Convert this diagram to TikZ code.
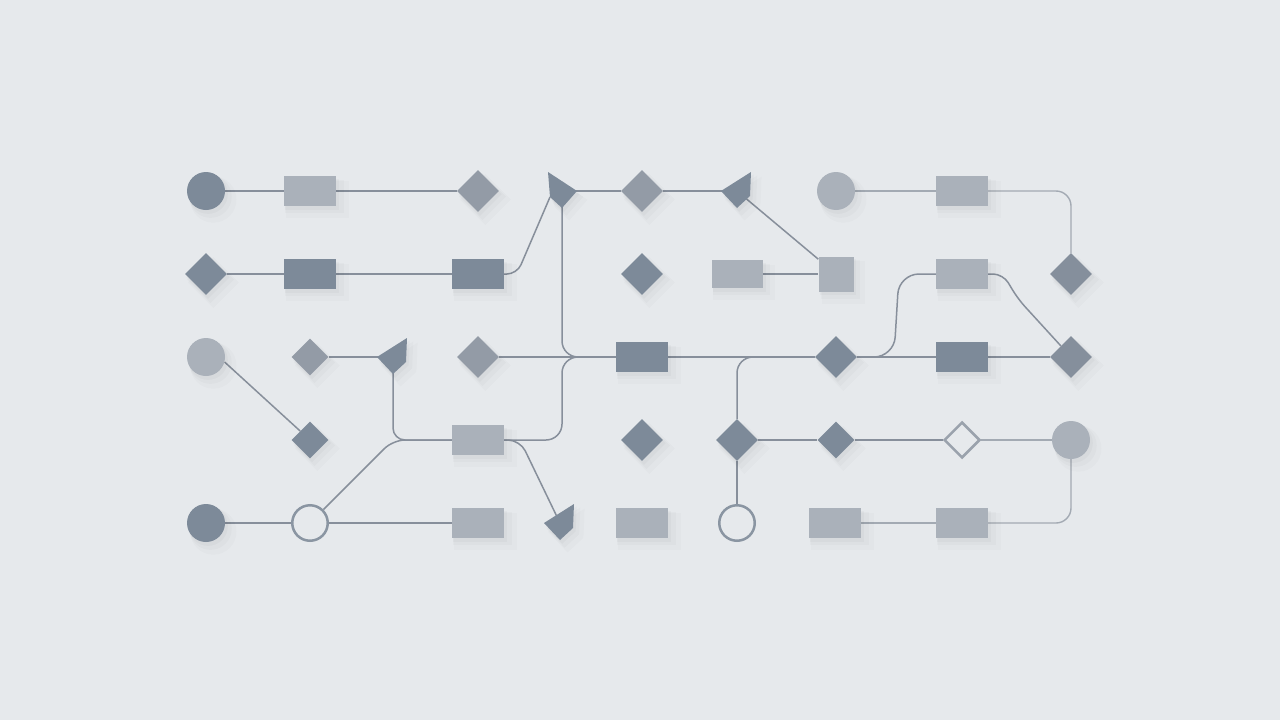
\documentclass[tikz,border=0pt]{standalone}
\usetikzlibrary{shapes.geometric,shadows}
\pgfdeclarelayer{bg}\pgfdeclarelayer{edges}
\pgfsetlayers{bg,edges,main}
\definecolor{bgc}{HTML}{E6E9EC}
\definecolor{dk}{HTML}{7D8A99}
\definecolor{dk2}{HTML}{858F9C}
\definecolor{md}{HTML}{939BA6}
\definecolor{lt}{HTML}{AAB1BA}
\definecolor{ln}{HTML}{878F9B}
\definecolor{lnl}{HTML}{A3AAB3}
\definecolor{ol}{HTML}{8A95A2}
\definecolor{oll}{HTML}{9AA2AC}
\begin{document}
\begin{tikzpicture}[x=1pt,y=-1pt,
  sh/.style={drop shadow={shadow xshift=2pt,shadow yshift=-3pt,shadow scale=1.04,opacity=0.025,fill=black},
             drop shadow={shadow xshift=4pt,shadow yshift=-5pt,shadow scale=1.12,opacity=0.02,fill=black},
             drop shadow={shadow xshift=6pt,shadow yshift=-7pt,shadow scale=1.22,opacity=0.015,fill=black}},
  circ/.style={circle,minimum size=38pt,inner sep=0pt,draw=none,sh},
  rct/.style={rectangle,minimum width=52pt,minimum height=30pt,inner sep=0pt,draw=none,sh},
  sqr/.style={rectangle,minimum size=35pt,inner sep=0pt,draw=none,sh},
  dia/.style={diamond,minimum size=42pt,inner sep=0pt,draw=none,sh},
  sdia/.style={diamond,minimum size=37pt,inner sep=0pt,draw=none,sh},
  hcirc/.style={circle,minimum size=35.5pt,inner sep=0pt,draw=ol,line width=2.5pt,fill=bgc},
  hdia/.style={diamond,minimum size=36pt,inner sep=0pt,draw=oll,line width=2.5pt,fill=bgc},
  conn/.style={draw=ln,line width=1.5pt},
  connl/.style={draw=lnl,line width=1.4pt},
]
\begin{pgfonlayer}{bg}
\fill[bgc] (0,0) rectangle (1280,720);
\end{pgfonlayer}
\useasboundingbox (0,0) rectangle (1280,720);

% row 1
\node[circ,fill=dk] (c11) at (206,191) {};
\node[rct,fill=lt] (r12) at (310,191) {};
\node[dia,fill=md] (d13) at (478,191) {};
\coordinate (t14) at (562,191);
\coordinate (t14a) at ([shift={(-12,6)}]t14);
\fill[dk,sh] ([shift={(-14,-19)}]t14) -- ([shift={(15,0)}]t14) -- ([shift={(0,17)}]t14) -- (t14a) -- cycle;
\node[dia,fill=md] (d15) at (642,191) {};
\coordinate (t16) at (737,191);
\fill[dk,sh] ([shift={(14,-19)}]t16) -- ([shift={(-16,0)}]t16) -- ([shift={(0,17)}]t16) -- ([shift={(13,5)}]t16) -- cycle;
\node[circ,fill=lt] (c17) at (836,191) {};
\node[rct,fill=lt] (r18) at (962,191) {};

% row 2
\node[dia,fill=dk] (d21) at (206,274) {};
\node[rct,fill=dk] (r22) at (310,274) {};
\node[rct,fill=dk] (r23) at (478,274) {};
\node[dia,fill=dk] (d24) at (642,274) {};
\node[rct,fill=lt,minimum width=51pt,minimum height=28pt] (r25) at (737,274) {};
\node[sqr,fill=lt] (sq26) at (836,274) {};
\node[rct,fill=lt] (r27) at (962,274) {};
\node[dia,fill=dk2] (d28) at (1071,274) {};

% row 3
\node[circ,fill=lt] (c31) at (206,357) {};
\node[sdia,fill=md] (d32) at (310,357) {};
\coordinate (t33) at (393,357);
\fill[dk,sh] ([shift={(14,-19)}]t33) -- ([shift={(-16,0)}]t33) -- ([shift={(0,17)}]t33) -- ([shift={(13,5)}]t33) -- cycle;
\node[dia,fill=md] (d34) at (478,357) {};
\node[rct,fill=dk] (r35) at (642,357) {};
\node[dia,fill=dk] (d36) at (836,357) {};
\node[rct,fill=dk] (r37) at (962,357) {};
\node[dia,fill=dk2] (d38) at (1071,357) {};

% row 4
\node[sdia,fill=dk] (d42) at (310,440) {};
\node[rct,fill=lt] (r43) at (478,440) {};
\node[dia,fill=dk] (d43) at (642,440) {};
\node[dia,fill=dk] (d44) at (737,440) {};
\node[sdia,fill=dk] (d45) at (836,440) {};
\node[hdia] (d46) at (962,440) {};
\node[circ,fill=lt] (c47) at (1071,440) {};

% row 5
\node[circ,fill=dk] (c51) at (206,523) {};
\node[hcirc] (c52) at (310,523) {};
\node[rct,fill=lt] (r53) at (478,523) {};
\coordinate (t54) at (560,523);
\fill[dk,sh] ([shift={(14,-19)}]t54) -- ([shift={(-16,0)}]t54) -- ([shift={(0,17)}]t54) -- ([shift={(13,5)}]t54) -- cycle;
\node[rct,fill=lt] (r55) at (642,523) {};
\node[hcirc] (c56) at (737,523) {};
\node[rct,fill=lt] (r57) at (835,523) {};
\node[rct,fill=lt] (r58) at (962,523) {};

\begin{pgfonlayer}{edges}
% row 1
\draw[conn] (c11) -- (r12) -- (d13);
\draw[conn] (t14) -- (d15) -- (t16);
\draw[connl] (c17) -- (r18);
\draw[connl,rounded corners=15] (r18.east) -- (1071,191) -- (d28);
% row 2
\draw[conn] (d21) -- (r22) -- (r23);
\draw[conn,rounded corners=10] (r23.east) -- (517,274) -- (t14a);
\draw[conn] (t16) -- (sq26);
\draw[conn] (r25) -- (sq26);
\draw[conn,rounded corners=20] (d36) -- (894,357) -- (899,274) -- (r27.west);
\draw[conn,rounded corners=10] (r27.east) -- (1003,274) -- (1018,299) -- (d38);
% row 3
\draw[conn] (c31.-15) -- (d42);
\draw[conn] (d32) -- (t33);
\draw[conn,rounded corners=12] (t33) -- (393,440) -- (r43.west);
\draw[conn,rounded corners=12] (c52) -- (393,440) -- (r43.west);
\draw[conn] (d34) -- (r35);
\draw[conn,rounded corners=16] (t14) -- (562,357) -- (r35.west);
\draw[conn,rounded corners=16] (r43.east) -- (562,440) -- (562,357) -- (r35.west);
\draw[conn,rounded corners=12] (r43.east) -- (520,440) -- (t54);
\draw[conn] (r35) -- (d36);
\draw[conn,rounded corners=16] (d36) -- (737,357) -- (d44);
\draw[conn] (d36) -- (r37) -- (d38);
% row 4
\draw[conn] (d44) -- (d45) -- (d46);
\draw[connl] (d46) -- (c47);
\draw[conn] (d44) -- (c56);
% row 5
\draw[conn] (c51) -- (c52) -- (r53);
\draw[connl] (r57) -- (r58);
\draw[connl,rounded corners=15] (r58.east) -- (1071,523) -- (c47);
\end{pgfonlayer}
\end{tikzpicture}
\end{document}
